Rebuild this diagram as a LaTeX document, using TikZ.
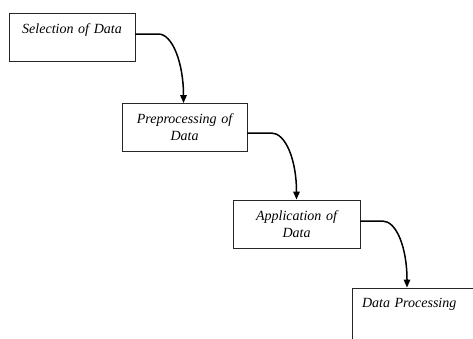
\documentclass[tikz,border=0pt]{standalone}
\usepackage{fontspec}
\setmainfont{Liberation Serif}
\usetikzlibrary{arrows.meta}
\tikzset{
  box/.style={draw=black!85, line width=0.9pt, rectangle, minimum height=48pt,
    inner sep=0pt, font=\fontsize{14}{17}\selectfont\itshape},
  cbox/.style={box, text width=115pt, align=center},
  flow/.style={line width=1.5pt, -{Triangle[length=8pt,width=6.5pt]}}
}
\begin{document}
\begin{tikzpicture}[x=1pt,y=-1pt]
\useasboundingbox (0,0) rectangle (473,338);
\clip (0,0) rectangle (473,338);
\fill[white] (0,0) rectangle (473,338);
\node[cbox, minimum width=126pt] (b1) at (72,37) {Selection of Data\\\mbox{}};
\node[cbox, minimum width=125pt] (b2) at (184.5,127.5) {Preprocessing of\\Data};
\node[cbox, minimum width=127pt] (b3) at (296.5,224) {Application of\\Data};
\node[box, minimum width=130pt, minimum height=64pt, text width=110pt, align=left] (b4) at (417,320) {Data Processing\\\mbox{}\\\mbox{}};
\draw[flow] ([yshift=3pt]b1.east) -- ++(23,0) .. controls +(14,0) and +(0,-40) .. ([xshift=-1pt]b2.north);
\draw[flow] ([yshift=-5.5pt]b2.east) -- ++(24,0) .. controls +(14,0) and +(0,-40) .. (b3.north);
\draw[flow] ([yshift=3pt]b3.east) -- ++(22,0) .. controls +(14,0) and +(0,-40) .. ([xshift=-10pt]b4.north);
\end{tikzpicture}
\end{document}
